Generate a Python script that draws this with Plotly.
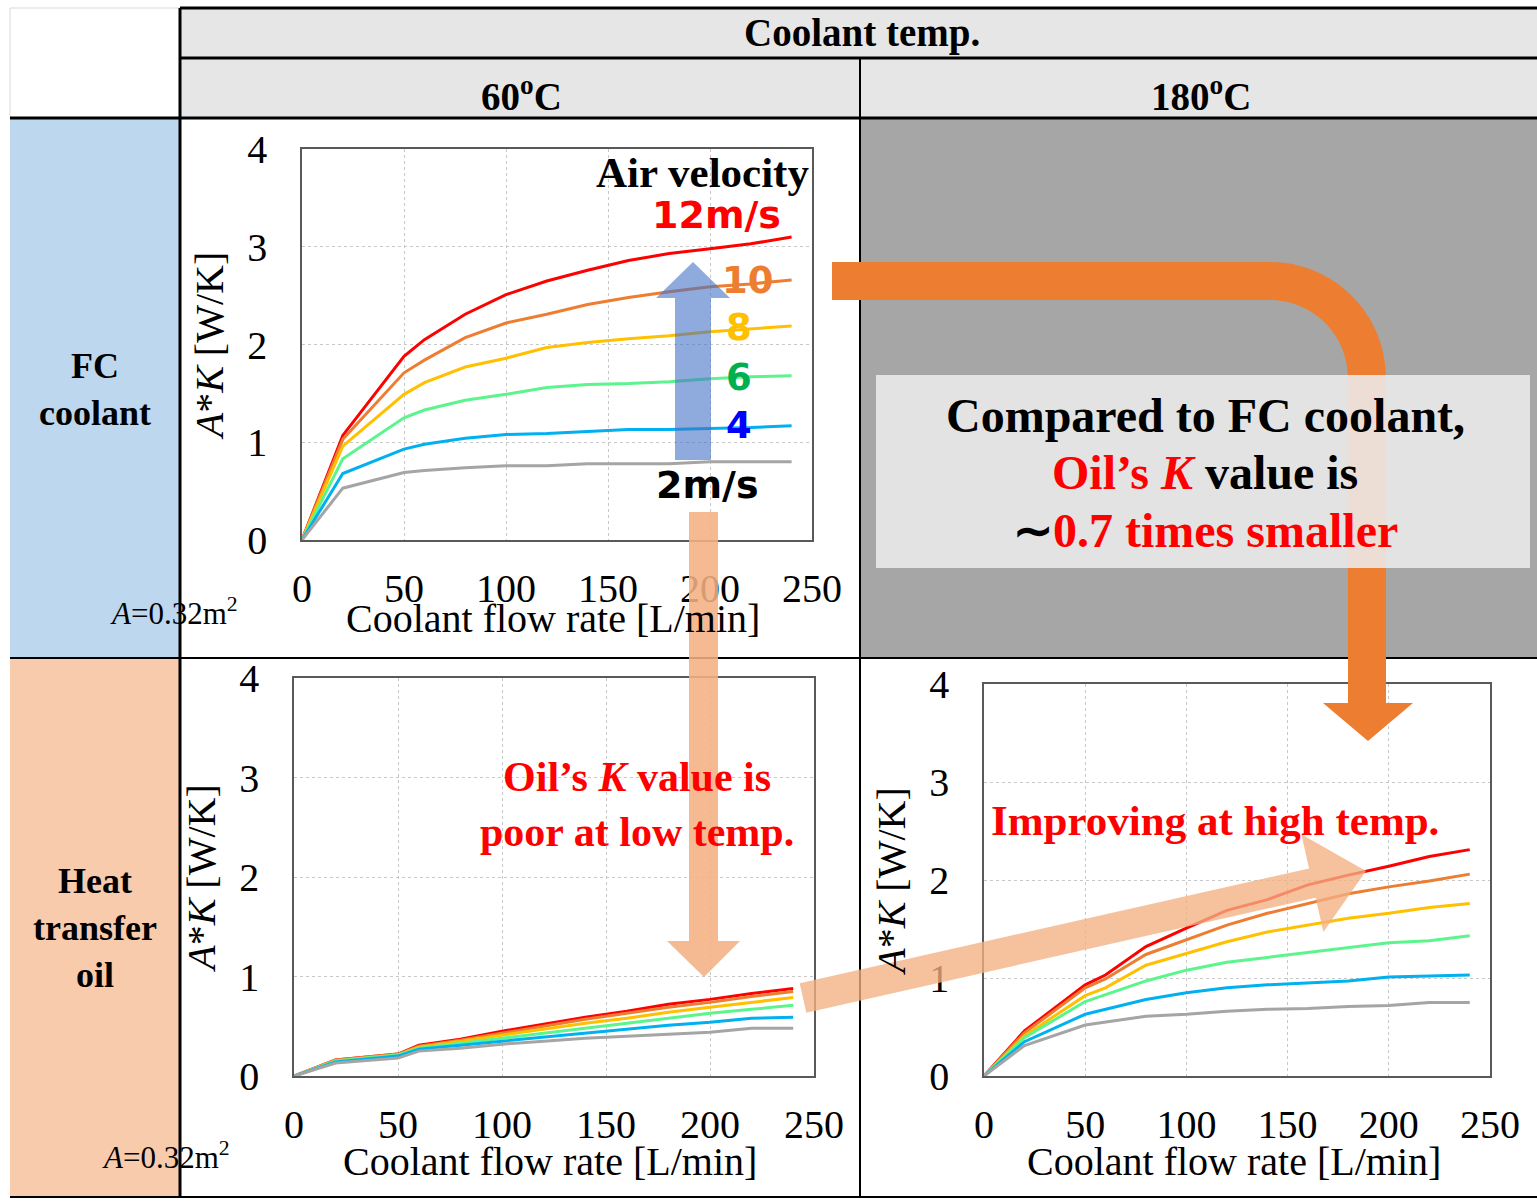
import math
import plotly.graph_objects as go

W, H = 1537, 1203
SERIF = "Liberation Serif"
SANS = "DejaVu Sans"

# ---------------- data ----------------
flow = [0, 20, 50, 60, 80, 100, 120, 140, 160, 180, 200, 220, 240]
velocity_labels = ["12", "10", "8", "6", "4", "2"]
line_colors = ["#FF0000", "#ED7D31", "#FFC000", "#5CF48C", "#00B0F0", "#A5A5A5"]
x_ticks = [0, 50, 100, 150, 200, 250]
y_ticks = [0, 1, 2, 3, 4]

# FC coolant, 60 C  (rows: 12,10,8,6,4,2 m/s)
fc_60 = [
    [0, 1.07, 1.88, 2.05, 2.31, 2.51, 2.65, 2.76, 2.86, 2.93, 2.98, 3.03, 3.10],
    [0, 1.03, 1.71, 1.84, 2.07, 2.22, 2.31, 2.41, 2.48, 2.54, 2.59, 2.62, 2.66],
    [0, 0.96, 1.49, 1.61, 1.77, 1.86, 1.97, 2.02, 2.06, 2.09, 2.13, 2.16, 2.19],
    [0, 0.83, 1.25, 1.33, 1.43, 1.49, 1.56, 1.59, 1.60, 1.62, 1.65, 1.67, 1.68],
    [0, 0.68, 0.93, 0.98, 1.04, 1.08, 1.09, 1.11, 1.13, 1.13, 1.14, 1.15, 1.17],
    [0, 0.53, 0.69, 0.71, 0.74, 0.76, 0.76, 0.78, 0.78, 0.78, 0.80, 0.80, 0.80],
]
# Heat transfer oil, 60 C
oil_60 = [
    [0, 0.16, 0.22, 0.31, 0.37, 0.45, 0.52, 0.59, 0.65, 0.72, 0.77, 0.83, 0.88],
    [0, 0.16, 0.22, 0.30, 0.36, 0.43, 0.50, 0.57, 0.63, 0.69, 0.74, 0.80, 0.85],
    [0, 0.15, 0.21, 0.29, 0.35, 0.41, 0.47, 0.53, 0.58, 0.64, 0.69, 0.74, 0.79],
    [0, 0.15, 0.21, 0.28, 0.33, 0.38, 0.43, 0.48, 0.53, 0.58, 0.63, 0.67, 0.71],
    [0, 0.14, 0.20, 0.27, 0.31, 0.35, 0.39, 0.43, 0.47, 0.51, 0.54, 0.58, 0.59],
    [0, 0.13, 0.18, 0.25, 0.28, 0.32, 0.35, 0.38, 0.40, 0.42, 0.44, 0.48, 0.48],
]
# Heat transfer oil, 180 C
oil_180 = [
    [0, 0.46, 0.93, 1.03, 1.32, 1.51, 1.69, 1.80, 1.95, 2.05, 2.14, 2.24, 2.31],
    [0, 0.44, 0.90, 0.99, 1.24, 1.39, 1.54, 1.66, 1.76, 1.86, 1.93, 1.99, 2.06],
    [0, 0.41, 0.82, 0.90, 1.13, 1.25, 1.37, 1.47, 1.54, 1.61, 1.66, 1.72, 1.76],
    [0, 0.39, 0.76, 0.83, 0.97, 1.08, 1.16, 1.21, 1.26, 1.31, 1.36, 1.38, 1.43],
    [0, 0.35, 0.63, 0.68, 0.78, 0.85, 0.90, 0.93, 0.95, 0.97, 1.01, 1.02, 1.03],
    [0, 0.31, 0.52, 0.55, 0.61, 0.63, 0.66, 0.68, 0.69, 0.71, 0.72, 0.75, 0.75],
]


# ---------------- helpers ----------------
def px(x):
    return x / W


def py(y):
    return 1 - y / H


def path(points, close=True):
    s = "M " + " L ".join(f"{px(x):.5f},{py(y):.5f}" for x, y in points)
    return s + (" Z" if close else "")


fig = go.Figure()

panels = [
    (fc_60, "x", "y"),
    (oil_60, "x2", "y2"),
    (oil_180, "x3", "y3"),
]
for data, xa, ya in panels:
    for vals, col, lab in zip(data, line_colors, velocity_labels):
        fig.add_trace(go.Scatter(
            x=flow, y=vals, xaxis=xa, yaxis=ya, mode="lines",
            line=dict(color=col, width=3), name=lab + " m/s",
            showlegend=False, hoverinfo="skip"))

axis_common = dict(
    showline=True, mirror=True, linecolor="#595959", linewidth=1.5,
    showgrid=True, gridcolor="#C8C8C8", griddash="dot", gridwidth=1,
    zeroline=False, ticks="outside", tickcolor="rgba(0,0,0,0)",
    automargin=False,
    tickfont=dict(family=SERIF, size=40, color="black"),
)

title_font = dict(family=SERIF, size=40, color="black")
ytitle = "<i>A</i>*<i>K</i> [W/K]"
xtitle = "Coolant flow rate [L/min]"

boxes = {
    "": ((302, 812), (540, 149)),
    "2": ((294, 814), (1076, 678)),
    "3": ((984, 1490), (1076, 684)),
}
layout_axes = {}
for k, ((x0, x1), (yb, yt)) in boxes.items():
    layout_axes["xaxis" + k] = dict(
        axis_common, domain=[px(x0), px(x1)], range=[0, 250],
        tickvals=x_ticks, ticklen=12, anchor="y" + k)
    layout_axes["yaxis" + k] = dict(
        axis_common, domain=[py(yb), py(yt)], range=[0, 4],
        tickvals=y_ticks, ticklen=25, anchor="x" + k,
        title=dict(text=ytitle, font=title_font, standoff=11))

shapes = []
# table backgrounds
shapes.append(dict(type="rect", xref="paper", yref="paper", layer="below",
                   x0=px(180), x1=px(1537), y0=py(118), y1=py(8),
                   fillcolor="#E7E6E6", line=dict(width=0)))
shapes.append(dict(type="rect", xref="paper", yref="paper", layer="below",
                   x0=px(10), x1=px(180), y0=py(118), y1=py(8),
                   fillcolor="white", line=dict(color="#D9D9D9", width=1)))
shapes.append(dict(type="rect", xref="paper", yref="paper", layer="below",
                   x0=px(10), x1=px(180), y0=py(658), y1=py(118),
                   fillcolor="#BDD7EE", line=dict(width=0)))
shapes.append(dict(type="rect", xref="paper", yref="paper", layer="below",
                   x0=px(10), x1=px(180), y0=py(1197), y1=py(658),
                   fillcolor="#F8CBAD", line=dict(width=0)))
shapes.append(dict(type="rect", xref="paper", yref="paper", layer="below",
                   x0=px(860), x1=px(1537), y0=py(658), y1=py(118),
                   fillcolor="#A6A6A6", line=dict(width=0)))


def hline(y, x0, x1, w):
    shapes.append(dict(type="line", xref="paper", yref="paper", layer="above",
                       x0=px(x0), x1=px(x1), y0=py(y), y1=py(y),
                       line=dict(color="black", width=w)))


def vline(x, y0, y1, w):
    shapes.append(dict(type="line", xref="paper", yref="paper", layer="above",
                       x0=px(x), x1=px(x), y0=py(y0), y1=py(y1),
                       line=dict(color="black", width=w)))


hline(8, 180, 1537, 3)
hline(58, 180, 1537, 3)
hline(118, 10, 1537, 3)
hline(658, 10, 1537, 2)
hline(1197, 10, 1537, 2)
vline(180, 8, 1197, 3)
vline(860, 58, 1197, 2)

# orange L-shaped arrow
R_out, R_in = 116, 78
k = 0.5523
orange_path = (
    f"M {px(832):.5f},{py(262):.5f} L {px(1270):.5f},{py(262):.5f} "
    f"C {px(1270 + k * R_out):.5f},{py(262):.5f} {px(1386):.5f},{py(378 - k * R_out):.5f} {px(1386):.5f},{py(378):.5f} "
    f"L {px(1386):.5f},{py(703):.5f} L {px(1413):.5f},{py(703):.5f} L {px(1368):.5f},{py(741):.5f} "
    f"L {px(1323):.5f},{py(703):.5f} L {px(1348):.5f},{py(703):.5f} L {px(1348):.5f},{py(378):.5f} "
    f"C {px(1348):.5f},{py(378 - k * R_in):.5f} {px(1270 + k * R_in):.5f},{py(300):.5f} {px(1270):.5f},{py(300):.5f} "
    f"L {px(832):.5f},{py(300):.5f} Z"
)
shapes.append(dict(type="path", xref="paper", yref="paper", layer="above",
                   path=orange_path, fillcolor="#ED7D31", line=dict(width=0)))

# translucent text box
shapes.append(dict(type="rect", xref="paper", yref="paper", layer="above",
                   x0=px(876), x1=px(1530), y0=py(568), y1=py(375),
                   fillcolor="rgba(236,236,236,0.88)", line=dict(width=0)))

# blue upward arrow
blue_pts = [(675, 460), (675, 298), (656, 298), (693, 262), (730, 298), (711, 298), (711, 460)]
shapes.append(dict(type="path", xref="paper", yref="paper", layer="above",
                   path=path(blue_pts), fillcolor="rgba(68,114,196,0.6)", line=dict(width=0)))

# peach downward arrow
peach_pts = [(689, 512), (718, 512), (718, 941), (740, 941), (704, 977), (667, 941), (689, 941)]
shapes.append(dict(type="path", xref="paper", yref="paper", layer="above",
                   path=path(peach_pts), fillcolor="rgba(244,177,131,0.88)", line=dict(width=0)))

# peach diagonal arrow
S = (803, 998)
T = (1366, 871)
L = math.hypot(T[0] - S[0], T[1] - S[1])
ux, uy = (T[0] - S[0]) / L, (T[1] - S[1]) / L
nx, ny = -uy, ux
hl, sw, hw = 55, 15, 50
B = (T[0] - ux * hl, T[1] - uy * hl)
diag = [
    (S[0] + nx * sw, S[1] + ny * sw),
    (B[0] + nx * sw, B[1] + ny * sw),
    (B[0] + nx * hw, B[1] + ny * hw),
    T,
    (B[0] - nx * hw, B[1] - ny * hw),
    (B[0] - nx * sw, B[1] - ny * sw),
    (S[0] - nx * sw, S[1] - ny * sw),
]
shapes.append(dict(type="path", xref="paper", yref="paper", layer="above",
                   path=path(diag), fillcolor="rgba(244,177,131,0.78)", line=dict(width=0)))

annotations = []


def ann(text, x, y, size, color="black", family=SERIF, xanchor="center"):
    annotations.append(dict(
        text=text, x=px(x), y=py(y), xref="paper", yref="paper",
        xanchor=xanchor, yanchor="middle", showarrow=False,
        font=dict(family=family, size=size, color=color), align="center"))


ann("<b>Coolant temp.</b>", 862, 33, 39)
ann("<b>60<sup>o</sup>C</b>", 521, 94, 39)
ann("<b>180<sup>o</sup>C</b>", 1201, 94, 39)
ann("<b>FC<br>coolant</b>", 95, 389, 36)
ann("<b>Heat<br>transfer<br>oil</b>", 95, 928, 36)
ann("<i>A</i>=0.32m<sup>2</sup>", 174, 611, 31)
ann("<i>A</i>=0.32m<sup>2</sup>", 166, 1155, 31)

# x-axis titles
ann(xtitle, 553, 618, 40)
ann(xtitle, 550, 1161, 40)
ann(xtitle, 1234, 1161, 40)

ann("<b>Air velocity</b>", 811, 172, 43, xanchor="right")
ann("<b>12m/s</b>", 716, 215, 38, color="#FF0000", family=SANS)
ann("<b>10</b>", 748, 280, 37, color="#ED7D31", family=SANS)
ann("<b>8</b>", 739, 327, 37, color="#FFC000", family=SANS)
ann("<b>6</b>", 739, 378, 37, color="#00B050", family=SANS)
ann("<b>4</b>", 739, 426, 37, color="#0000FF", family=SANS)
ann("<b>2m/s</b>", 707, 485, 38, color="black", family=SANS)

ann("<b>Compared to FC coolant,</b>", 1205, 416, 48)
ann("<b><span style='color:#FF0000'>Oil’s <i>K</i></span> value is</b>", 1205, 472, 48)
ann("<b>∼<span style='color:#FF0000'>0.7 times smaller</span></b>", 1205, 530, 48)

ann("<b>Oil’s <i>K</i> value is<br>poor at low temp.</b>", 637, 804, 42, color="#FF0000")
ann("<b>Improving at high temp.</b>", 1215, 820, 43, color="#FF0000")

fig.update_layout(
    template="none",
    width=W, height=H,
    autosize=False,
    margin=dict(l=0, r=0, t=0, b=0, pad=0, autoexpand=False),
    paper_bgcolor="white",
    plot_bgcolor="rgba(0,0,0,0)",
    showlegend=False,
    shapes=shapes,
    annotations=annotations,
    **layout_axes,
)

fig.write_html("out.html", config={"displayModeBar": False},
               post_script="document.body.style.margin='0';")
